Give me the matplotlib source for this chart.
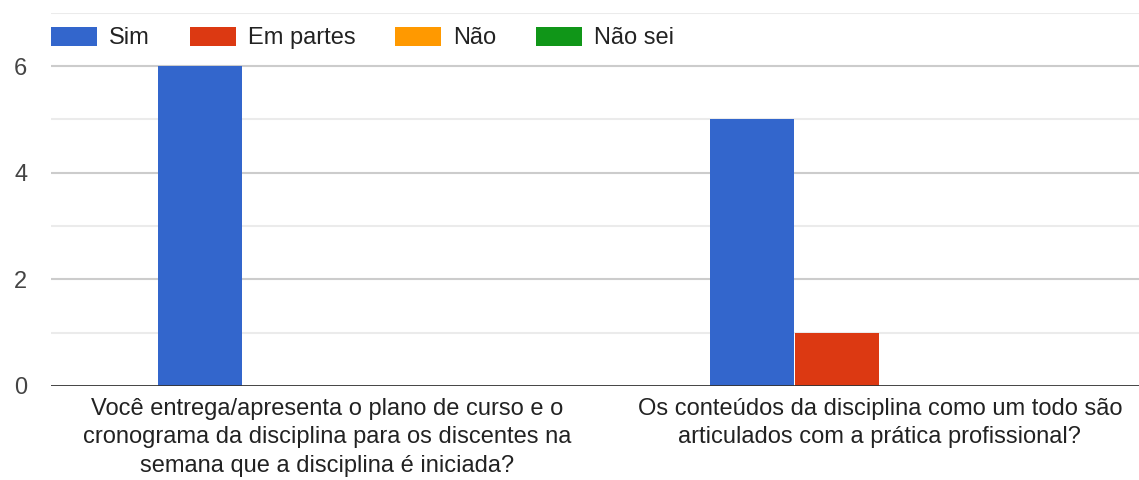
import matplotlib
matplotlib.use("Agg")
import matplotlib.pyplot as plt
import numpy as np

categories = [
    "Você entrega/apresenta o plano de curso e o\ncronograma da disciplina para os discentes na\nsemana que a disciplina é iniciada?",
    "Os conteúdos da disciplina como um todo são\narticulados com a prática profissional?",
]
series_names = ["Sim", "Em partes", "Não", "Não sei"]
sim = [6, 5]
em_partes = [0, 1]
nao = [0, 0]
nao_sei = [0, 0]
yticks = [0, 2, 4, 6]

colors = ["#3366cc", "#dc3912", "#ff9900", "#109618"]
series = [sim, em_partes, nao, nao_sei]

plt.rcParams['font.family'] = ['Liberation Sans', 'DejaVu Sans']
fs = 17

fig = plt.figure(figsize=(11.39, 4.80), dpi=100)
W, H = 1139, 480
left_px, right_px, top_px, bottom_px = 51, 1156, 12.7, 386
ax = fig.add_axes([left_px / W, 1 - bottom_px / H, (right_px - left_px) / W, (bottom_px - top_px) / H])

x = np.arange(len(categories))
w = 0.1538
handles = []
for i, (name, vals, c) in enumerate(zip(series_names, series, colors)):
    b = ax.bar(x + (i - 1.5) * w, vals, width=w - 0.002, color=c, label=name, zorder=3, linewidth=0)
    handles.append(b)

ax.set_xlim(-0.5, 1.5)
ax.set_ylim(0, 7)

for v in range(1, 8):
    col = "#cccccc" if v % 2 == 0 else "#ebebeb"
    ax.axhline(v, color=col, lw=1.5, zorder=1)
ax.axhline(0, color="#333333", lw=2.0, zorder=4)

for s in ax.spines.values():
    s.set_visible(False)

ax.set_yticks(yticks)
ax.set_yticklabels([str(t) for t in yticks], fontsize=fs, color="#444444")
ax.tick_params(axis='y', length=0, pad=17)
ax.set_xticks(x)
ax.set_xticklabels(categories, fontsize=fs, color="#222222", linespacing=1.38)
ax.tick_params(axis='x', length=0, pad=8.5)

leg = ax.legend(handles=handles, labels=series_names, loc='center left',
                bbox_to_anchor=(0.0, (bottom_px - 38) / (bottom_px - top_px)),
                ncol=4, frameon=False, fontsize=fs, handlelength=1.95, handleheight=0.89,
                handletextpad=0.5, columnspacing=1.7, borderpad=0, borderaxespad=0)
for t in leg.get_texts():
    t.set_color("#222222")

fig.savefig("out.png", dpi=100)
